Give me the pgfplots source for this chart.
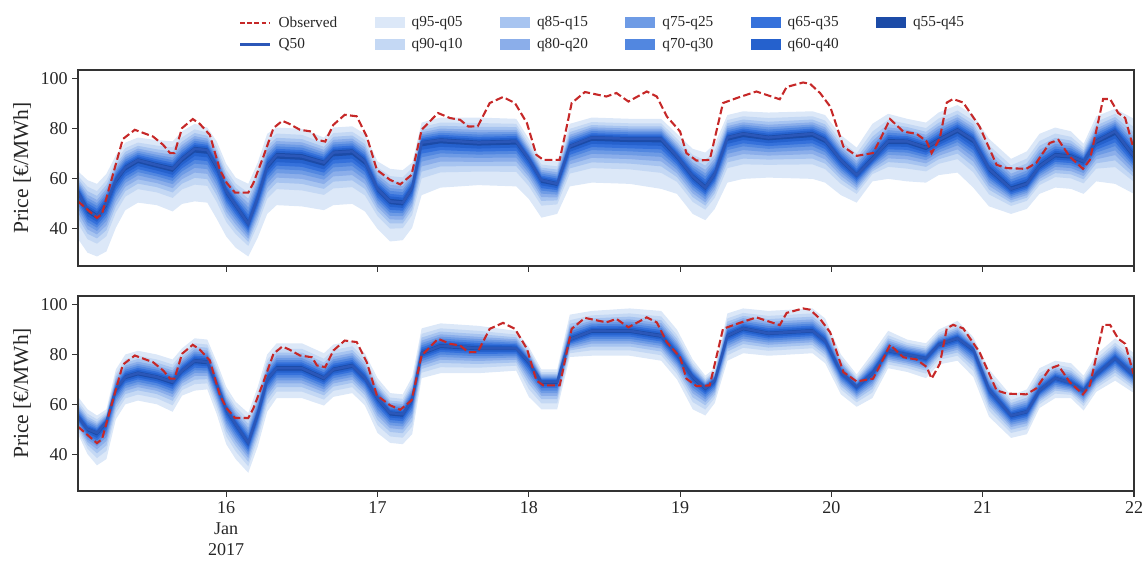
\documentclass[border=0pt]{standalone}
\usepackage{fontspec}
\setmainfont{Liberation Serif}
\usepackage{pgfplots}
\pgfplotsset{compat=1.18}
\usepackage{pgfplotstable}
\usepgfplotslibrary{fillbetween}

\definecolor{c1}{HTML}{DCE8F8}
\definecolor{c2}{HTML}{C4D8F4}
\definecolor{c3}{HTML}{A7C4F0}
\definecolor{c4}{HTML}{8BAEEA}
\definecolor{c5}{HTML}{6E9BE5}
\definecolor{c6}{HTML}{5287E0}
\definecolor{c7}{HTML}{3571DB}
\definecolor{c8}{HTML}{2561CD}
\definecolor{c9}{HTML}{1C4BA7}
\definecolor{medcol}{HTML}{2B57B8}
\definecolor{obscol}{HTML}{C62828}
\definecolor{txt}{HTML}{262626}

\pgfplotstableread{
h q05 q10 q15 q20 q25 q30 q35 q40 q45 q50 q55 q60 q65 q70 q75 q80 q85 q90 q95
0.5  36 42.1 44.5 46.4 48.2 49.7 51.0 52.3 53.7 55 55.6 56.2 56.8 57.6 58.3 59.1 60.0 61.2 63.0
2    30.5 35.9 38.1 39.8 41.4 42.7 43.9 45.1 46.3 47.5 48.5 49.3 50.3 51.3 52.4 53.6 55.1 56.9 59.5
3.5  29 34.1 36.2 37.8 39.2 40.5 41.6 42.8 43.9 45 46 47 48 49.2 50.3 51.6 53.2 55.1 58
5    31 37.1 39.5 41.4 43.2 44.7 46.0 47.3 48.7 50 51 51.8 52.8 53.8 54.9 56.1 57.6 59.4 62
6.5  40.5 46.6 49.0 50.9 52.7 54.2 55.5 56.8 58.2 59.5 60.3 61.0 61.8 62.7 63.6 64.6 65.8 67.3 69.5
8    47.5 52.9 55.1 56.8 58.4 59.7 60.9 62.1 63.3 64.5 65.3 66.0 66.8 67.7 68.6 69.6 70.8 72.3 74.5
10   50.5 55.9 58.1 59.8 61.4 62.7 63.9 65.1 66.3 67.5 68.2 68.9 69.6 70.4 71.2 72.1 73.2 74.5 76.5
13   49.5 54.6 56.7 58.3 59.7 61.0 62.1 63.3 64.4 65.5 66.3 67.0 67.8 68.7 69.6 70.6 71.8 73.3 75.5
15.5 47 52.4 54.6 56.3 57.9 59.2 60.4 61.6 62.8 64 64.9 65.7 66.5 67.5 68.5 69.6 70.9 72.6 75
17   50 55.8 58.1 59.9 61.5 63.0 64.2 65.5 66.7 68 68.9 69.7 70.5 71.5 72.5 73.6 74.9 76.6 79
19   51 57.7 60.4 62.5 64.4 66.1 67.6 69.1 70.5 72 72.8 73.5 74.3 75.2 76.1 77.1 78.3 79.8 82
21   50.5 57.2 59.9 62.0 63.9 65.6 67.1 68.6 70.0 71.5 72.2 72.9 73.6 74.4 75.2 76.1 77.2 78.5 80.5
22.5 44 50.7 53.4 55.5 57.4 59.1 60.6 62.1 63.5 65 65.8 66.5 67.3 68.2 69.1 70.1 71.3 72.8 75
24   37 42.8 45.1 46.9 48.5 50.0 51.2 52.5 53.7 55 55.9 56.7 57.5 58.5 59.5 60.6 61.9 63.6 66
25.5 32.5 37.9 40.1 41.8 43.4 44.7 45.9 47.1 48.3 49.5 50.4 51.2 52.0 53.0 54.0 55.1 56.4 58.1 60.5
27.5 29 33.2 34.8 36.1 37.3 38.4 39.3 40.2 41.1 42 43.3 44.4 45.7 47.1 48.6 50.2 52.1 54.5 58
29   36.5 41.6 43.7 45.3 46.7 48.0 49.1 50.3 51.4 52.5 53.6 54.6 55.7 57.0 58.2 59.6 61.3 63.4 66.5
30.5 46 52.1 54.5 56.4 58.2 59.7 61.0 62.3 63.7 65 66 67 68 69.2 70.3 71.6 73.2 75.1 78
32   49.5 55.9 58.5 60.5 62.3 63.9 65.3 66.7 68.1 69.5 70.4 71.2 72.0 73.0 74.0 75.1 76.4 78.1 80.5
36   49 55.4 58.0 60.0 61.8 63.4 64.8 66.2 67.6 69 69.9 70.7 71.5 72.5 73.5 74.6 75.9 77.6 80
39.5 47.5 53.6 56.0 57.9 59.7 61.2 62.5 63.8 65.2 66.5 67.3 68.0 68.8 69.7 70.6 71.6 72.8 74.3 76.5
41   49.5 56.2 58.9 61.0 62.9 64.6 66.1 67.6 69.0 70.5 71.3 72.0 72.8 73.7 74.6 75.6 76.8 78.3 80.5
44   50 56.7 59.4 61.5 63.4 65.1 66.6 68.1 69.5 71 71.8 72.5 73.3 74.2 75.1 76.1 77.3 78.8 81
46   47 53.4 56.0 58.0 59.8 61.4 62.8 64.2 65.6 67 67.9 68.7 69.5 70.5 71.5 72.6 73.9 75.6 78
48   40 45.1 47.2 48.8 50.2 51.5 52.6 53.8 54.9 56 56.9 57.7 58.5 59.5 60.5 61.6 62.9 64.6 67
50   35 40.1 42.2 43.8 45.2 46.5 47.6 48.8 49.9 51 52 53 54 55.2 56.3 57.6 59.2 61.1 64
52   35.5 40.3 42.2 43.7 45.1 46.3 47.3 48.4 49.4 50.5 51.5 52.5 53.5 54.7 55.8 57.1 58.7 60.6 63.5
53.5 40.5 45.6 47.7 49.3 50.7 52.0 53.1 54.3 55.4 56.5 57.3 58.0 58.8 59.7 60.6 61.6 62.8 64.3 66.5
55   53.5 60.2 62.9 65.0 66.9 68.6 70.1 71.6 73.0 74.5 75.1 75.7 76.3 77.1 77.8 78.6 79.5 80.7 82.5
58   56.5 62.6 65.0 66.9 68.7 70.2 71.5 72.8 74.2 75.5 76.2 76.9 77.6 78.4 79.2 80.1 81.2 82.5 84.5
64   57.5 62.9 65.1 66.8 68.4 69.7 70.9 72.1 73.3 74.5 75.3 76.0 76.8 77.7 78.6 79.6 80.8 82.3 84.5
70   57 62.8 65.1 66.9 68.5 70.0 71.2 72.5 73.7 75 75.7 76.4 77.1 77.9 78.7 79.6 80.7 82.0 84
72   52 57.1 59.2 60.8 62.2 63.5 64.6 65.8 66.9 68 68.6 69.2 69.8 70.6 71.3 72.1 73.0 74.2 76
74   44.5 49.3 51.2 52.7 54.1 55.3 56.3 57.4 58.4 59.5 60.1 60.7 61.3 62.1 62.8 63.6 64.5 65.7 67.5
76.5 46 49.8 51.4 52.6 53.7 54.6 55.5 56.3 57.2 58 58.7 59.4 60.1 60.9 61.7 62.6 63.7 65.0 67
78.5 57 62.1 64.2 65.8 67.2 68.5 69.6 70.8 71.9 73 73.7 74.4 75.1 75.9 76.7 77.6 78.7 80.0 82
82   58.5 64.3 66.6 68.4 70.0 71.5 72.7 74.0 75.2 76.5 77.1 77.7 78.3 79.1 79.8 80.6 81.5 82.7 84.5
88   58 63.8 66.1 67.9 69.5 71.0 72.2 73.5 74.7 76 76.6 77.2 77.8 78.6 79.3 80.1 81.0 82.2 84
93   56 62.4 65.0 67.0 68.8 70.4 71.8 73.2 74.6 76 76.6 77.2 77.8 78.6 79.3 80.1 81.0 82.2 84
95.5 54 58.8 60.7 62.2 63.6 64.8 65.8 66.9 67.9 69 69.7 70.4 71.1 71.9 72.7 73.6 74.7 76.0 78
98   46 50.8 52.7 54.2 55.6 56.8 57.8 58.9 59.9 61 61.9 62.7 63.5 64.5 65.5 66.6 67.9 69.6 72
100  43.5 47.7 49.3 50.6 51.8 52.9 53.8 54.7 55.6 56.5 57.6 58.6 59.7 61.0 62.2 63.6 65.3 67.4 70.5
101.5 48 52.5 54.3 55.7 57.0 58.1 59.1 60.0 61.0 62 63 63.8 64.8 65.8 66.9 68.1 69.6 71.4 74
103.5 58.5 64.3 66.6 68.4 70.0 71.5 72.7 74.0 75.2 76.5 77.2 77.9 78.6 79.4 80.2 81.1 82.2 83.5 85.5
106  60 65.8 68.1 69.9 71.5 73.0 74.2 75.5 76.7 78 78.7 79.4 80.1 80.9 81.7 82.6 83.7 85.0 87
110  60.5 65.6 67.7 69.3 70.7 72.0 73.1 74.3 75.4 76.5 77.3 78.0 78.8 79.7 80.6 81.6 82.8 84.3 86.5
117  60 65.8 68.1 69.9 71.5 73.0 74.2 75.5 76.7 78 78.7 79.4 80.1 80.9 81.7 82.6 83.7 85.0 87
119  58.5 63.9 66.1 67.8 69.4 70.7 71.9 73.1 74.3 75.5 76.3 77.0 77.8 78.7 79.6 80.6 81.8 83.3 85.5
121.5 53.5 58.0 59.8 61.2 62.5 63.6 64.6 65.5 66.5 67.5 68.3 69.0 69.8 70.7 71.6 72.6 73.8 75.3 77.5
124  50.5 54.0 55.4 56.5 57.5 58.4 59.2 60.0 60.7 61.5 62.4 63.2 64.0 65.0 66.0 67.1 68.4 70.1 72.5
126.5 59 61.9 63.0 63.9 64.8 65.5 66.1 66.7 67.4 68 69.1 70.1 71.2 72.5 73.7 75.1 76.8 78.9 82
129  60 64.8 66.7 68.2 69.6 70.8 71.8 72.9 73.9 75 75.9 76.7 77.5 78.5 79.5 80.6 81.9 83.6 86
132  59 64.1 66.2 67.8 69.2 70.5 71.6 72.8 73.9 75 75.7 76.4 77.1 77.9 78.7 79.6 80.7 82.0 84
135  58.5 63.0 64.8 66.2 67.5 68.6 69.6 70.5 71.5 72.5 73.3 74.0 74.8 75.7 76.6 77.6 78.8 80.3 82.5
137  61.5 66.0 67.8 69.2 70.5 71.6 72.6 73.5 74.5 75.5 76.4 77.2 78.0 79.0 80.0 81.1 82.4 84.1 86.5
140  62.5 67.9 70.1 71.8 73.4 74.7 75.9 77.1 78.3 79.5 80.3 81.0 81.8 82.7 83.6 84.6 85.8 87.3 89.5
142.5 56.5 62.6 65.0 66.9 68.7 70.2 71.5 72.8 74.2 75.5 76.3 77.0 77.8 78.7 79.6 80.6 81.8 83.3 85.5
145  49 53.8 55.7 57.2 58.6 59.8 60.8 61.9 62.9 64 65 65.8 66.8 67.8 68.9 70.1 71.6 73.4 76
148.5 46 49.2 50.5 51.5 52.4 53.2 53.9 54.6 55.3 56 57 57.8 58.8 59.8 60.9 62.1 63.6 65.4 68
151  48 51.2 52.5 53.5 54.4 55.2 55.9 56.6 57.3 58 59 60 61 62.2 63.3 64.6 66.2 68.1 71
153  54 57.5 58.9 60.0 61.0 61.9 62.7 63.5 64.2 65 66 67 68 69.2 70.3 71.6 73.2 75.1 78
155.5 56.5 60.7 62.3 63.6 64.8 65.9 66.8 67.7 68.6 69.5 70.4 71.2 72.0 73.0 74.0 75.1 76.4 78.1 80.5
158  56 60.2 61.8 63.1 64.3 65.4 66.3 67.2 68.1 69 69.8 70.5 71.3 72.2 73.1 74.1 75.3 76.8 79
160  54 58.2 59.8 61.1 62.3 63.4 64.3 65.2 66.1 67 67.6 68.1 68.6 69.2 69.9 70.6 71.4 72.5 74
162  59 64.1 66.2 67.8 69.2 70.5 71.6 72.8 73.9 75 75.8 76.5 77.3 78.2 79.1 80.1 81.3 82.8 85
165  58 64.7 67.4 69.5 71.4 73.1 74.6 76.1 77.5 79 79.7 80.4 81.1 81.9 82.7 83.6 84.7 86.0 88
168  54 58.8 60.7 62.2 63.6 64.8 65.8 66.9 67.9 69 70.2 71.3 72.5 73.8 75.2 76.7 78.5 80.7 84
}\toptab

\pgfplotstableread{
h q05 q10 q15 q20 q25 q30 q35 q40 q45 q50 q55 q60 q65 q70 q75 q80 q85 q90 q95
0.5  48 49.5 50.6 51.4 52.1 52.8 53.4 53.9 54.4 55 55.6 56.2 56.8 57.6 58.3 59.1 60.0 61.2 63
2    40 42.2 43.7 44.9 45.9 46.8 47.7 48.5 49.2 50 50.6 51.2 51.8 52.6 53.3 54.1 55.0 56.2 58
3.5  35.5 38.4 40.3 41.9 43.2 44.3 45.5 46.5 47.5 48.5 49.1 49.6 50.1 50.7 51.4 52.1 52.9 54.0 55.5
5    38 41.3 43.5 45.3 46.8 48.2 49.5 50.7 51.8 53 53.4 53.8 54.2 54.6 55.1 55.6 56.2 56.9 58
6.5  54 56.6 58.4 59.9 61.1 62.2 63.2 64.2 65.0 66 66.6 67.2 67.8 68.6 69.3 70.1 71.0 72.2 74
8    60 62.4 64.1 65.4 66.5 67.5 68.5 69.3 70.1 71 71.7 72.4 73.1 73.9 74.7 75.6 76.7 78.0 80
10   61.5 63.9 65.6 66.9 68.0 69.0 70.0 70.8 71.6 72.5 73.2 73.9 74.6 75.4 76.2 77.1 78.2 79.5 81.5
13   60 62.4 64.1 65.4 66.5 67.5 68.5 69.3 70.1 71 71.7 72.4 73.1 73.9 74.7 75.6 76.7 78.0 80
15.5 57 59.6 61.4 62.9 64.1 65.2 66.2 67.2 68.0 69 69.7 70.4 71.1 71.9 72.7 73.6 74.7 76.0 78
17   63.5 65.7 67.2 68.4 69.4 70.3 71.2 72.0 72.7 73.5 74.2 74.9 75.6 76.4 77.2 78.1 79.2 80.5 82.5
19   65.5 68.1 69.9 71.4 72.6 73.7 74.7 75.7 76.5 77.5 78.2 78.9 79.6 80.4 81.2 82.1 83.2 84.5 86.5
21   66 68.4 70.1 71.4 72.5 73.5 74.5 75.3 76.1 77 77.7 78.4 79.1 79.9 80.7 81.6 82.7 84.0 86
22.5 56 58.6 60.4 61.9 63.1 64.2 65.2 66.2 67.0 68 68.7 69.4 70.1 70.9 71.7 72.6 73.7 75.0 77
24   44 47.1 49.2 50.9 52.3 53.5 54.8 55.9 56.9 58 58.7 59.4 60.1 60.9 61.7 62.6 63.7 65.0 67
25.5 38 41.1 43.2 44.9 46.3 47.5 48.8 49.9 50.9 52 52.7 53.4 54.1 54.9 55.7 56.6 57.7 59.0 61
27.5 32.5 35.1 36.9 38.4 39.6 40.7 41.7 42.7 43.5 44.5 45.5 46.3 47.3 48.3 49.4 50.6 52.1 53.9 56.5
29   43 45.9 47.8 49.4 50.7 51.8 53.0 54.0 55.0 56 56.9 57.7 58.5 59.5 60.5 61.6 62.9 64.6 67
30.5 57 59.9 61.8 63.4 64.7 65.8 67.0 68.0 69.0 70 70.8 71.5 72.3 73.2 74.1 75.1 76.3 77.8 80
32   62.5 65.1 66.9 68.4 69.6 70.7 71.7 72.7 73.5 74.5 75.3 76.0 76.8 77.7 78.6 79.6 80.8 82.3 84.5
36   62.5 65.1 66.9 68.4 69.6 70.7 71.7 72.7 73.5 74.5 75.3 76.0 76.8 77.7 78.6 79.6 80.8 82.3 84.5
39.5 59.5 61.9 63.6 64.9 66.0 67.0 68.0 68.8 69.6 70.5 71.3 72.0 72.8 73.7 74.6 75.6 76.8 78.3 80.5
41   63 65.4 67.1 68.4 69.5 70.5 71.5 72.3 73.1 74 74.8 75.5 76.3 77.2 78.1 79.1 80.3 81.8 84
44   64.5 66.9 68.6 69.9 71.0 72.0 73.0 73.8 74.6 75.5 76.3 77.0 77.8 78.7 79.6 80.6 81.8 83.3 85.5
46   59.5 61.9 63.6 64.9 66.0 67.0 68.0 68.8 69.6 70.5 71.3 72.0 72.8 73.7 74.6 75.6 76.8 78.3 80.5
48   48.5 51.6 53.7 55.4 56.8 58.0 59.3 60.4 61.4 62.5 63.1 63.7 64.3 65.1 65.8 66.6 67.5 68.7 70.5
50   44.5 47.1 48.9 50.4 51.6 52.7 53.7 54.7 55.5 56.5 57.1 57.7 58.3 59.1 59.8 60.6 61.5 62.7 64.5
52   44 46.6 48.4 49.9 51.1 52.2 53.2 54.2 55.0 56 56.6 57.2 57.8 58.6 59.3 60.1 61.0 62.2 64
53.5 48 51.1 53.2 54.9 56.3 57.5 58.8 59.9 60.9 62 62.7 63.4 64.1 64.9 65.7 66.6 67.7 69.0 71
55   70.5 72.7 74.2 75.4 76.4 77.3 78.2 79.0 79.7 80.5 81.3 82.0 82.8 83.7 84.6 85.6 86.8 88.3 90.5
58   72.5 74.9 76.6 77.9 79.0 80.0 81.0 81.8 82.6 83.5 84.2 84.9 85.6 86.4 87.2 88.1 89.2 90.5 92.5
64   72.5 74.7 76.2 77.4 78.4 79.3 80.2 81.0 81.7 82.5 83.2 83.9 84.6 85.4 86.2 87.1 88.2 89.5 91.5
70   73.5 75.5 76.8 77.9 78.8 79.6 80.4 81.1 81.8 82.5 83.1 83.6 84.1 84.7 85.4 86.1 86.9 88.0 89.5
72   63 66.1 68.2 69.9 71.3 72.5 73.8 74.9 75.9 77 77.5 77.9 78.4 78.9 79.5 80.1 80.8 81.7 83
74   58 60.4 62.1 63.4 64.5 65.5 66.5 67.3 68.1 69 69.4 69.8 70.2 70.6 71.1 71.6 72.2 72.9 74
76.5 58 60.4 62.1 63.4 64.5 65.5 66.5 67.3 68.1 69 69.4 69.8 70.2 70.6 71.1 71.6 72.2 72.9 74
78.5 79 80.5 81.6 82.4 83.1 83.8 84.4 84.9 85.4 86 86.8 87.5 88.3 89.2 90.1 91.1 92.3 93.8 96
82   79.5 81.7 83.2 84.4 85.4 86.3 87.2 88.0 88.7 89.5 90.1 90.7 91.3 92.1 92.8 93.6 94.5 95.7 97.5
88   79.5 81.7 83.2 84.4 85.4 86.3 87.2 88.0 88.7 89.5 90.2 90.9 91.6 92.4 93.2 94.1 95.2 96.5 98.5
93   77.5 79.7 81.2 82.4 83.4 84.3 85.2 86.0 86.7 87.5 88.3 89.0 89.8 90.7 91.6 92.6 93.8 95.3 97.5
95.5 70 72.2 73.7 74.9 75.9 76.8 77.7 78.5 79.2 80 80.8 81.5 82.3 83.2 84.1 85.1 86.3 87.8 90
98   58 60.9 62.8 64.4 65.7 66.8 68.0 69.0 70.0 71 71.6 72.1 72.6 73.2 73.9 74.6 75.4 76.5 78
100  55.5 57.9 59.6 60.9 62.0 63.0 64.0 64.8 65.6 66.5 66.9 67.3 67.7 68.1 68.6 69.1 69.7 70.4 71.5
101.5 60.5 62.5 63.8 64.9 65.8 66.6 67.4 68.1 68.8 69.5 69.9 70.3 70.7 71.1 71.6 72.1 72.7 73.4 74.5
103.5 77.5 79.7 81.2 82.4 83.4 84.3 85.2 86.0 86.7 87.5 88.2 88.9 89.6 90.4 91.2 92.1 93.2 94.5 96.5
106  80.5 82.7 84.2 85.4 86.4 87.3 88.2 89.0 89.7 90.5 91.1 91.7 92.3 93.1 93.8 94.6 95.5 96.7 98.5
110  79.5 81.5 82.8 83.9 84.8 85.6 86.4 87.1 87.8 88.5 89.2 89.9 90.6 91.4 92.2 93.1 94.2 95.5 97.5
117  80.5 82.5 83.8 84.9 85.8 86.6 87.4 88.1 88.8 89.5 90.2 90.9 91.6 92.4 93.2 94.1 95.2 96.5 98.5
119  76.5 78.5 79.8 80.9 81.8 82.6 83.4 84.1 84.8 85.5 86.2 86.9 87.6 88.4 89.2 90.1 91.2 92.5 94.5
121.5 64 66.0 67.3 68.4 69.3 70.1 70.9 71.6 72.3 73 73.6 74.1 74.6 75.2 75.9 76.6 77.4 78.5 80
124  59 60.8 62.0 62.9 63.7 64.4 65.2 65.8 66.4 67 67.4 67.8 68.2 68.6 69.1 69.6 70.2 70.9 72
126.5 62.5 64.7 66.2 67.4 68.4 69.3 70.2 71.0 71.7 72.5 73.1 73.7 74.3 75.1 75.8 76.6 77.5 78.7 80.5
129  74.5 76.0 77.1 77.9 78.6 79.3 79.9 80.4 80.9 81.5 82.1 82.7 83.3 84.1 84.8 85.6 86.5 87.7 89.5
132  73 74.5 75.6 76.4 77.1 77.8 78.4 78.9 79.4 80 80.5 80.9 81.4 81.9 82.5 83.1 83.8 84.7 86
135  70.5 72.3 73.5 74.4 75.2 75.9 76.7 77.3 77.9 78.5 79.0 79.4 79.9 80.4 81.0 81.6 82.3 83.2 84.5
137  76 77.8 79.0 79.9 80.7 81.4 82.2 82.8 83.4 84 84.5 84.9 85.4 85.9 86.5 87.1 87.8 88.7 90
140  77.5 79.5 80.8 81.9 82.8 83.6 84.4 85.1 85.8 86.5 87.1 87.6 88.1 88.7 89.4 90.1 90.9 92.0 93.5
142.5 71 73.4 75.1 76.4 77.5 78.5 79.5 80.3 81.1 82 82.4 82.8 83.2 83.6 84.1 84.6 85.2 85.9 87
145  55 57.4 59.1 60.4 61.5 62.5 63.5 64.3 65.1 66 66.6 67.2 67.8 68.6 69.3 70.1 71.0 72.2 74
148.5 46.5 48.5 49.8 50.9 51.8 52.6 53.4 54.1 54.8 55.5 56.1 56.7 57.3 58.1 58.8 59.6 60.5 61.7 63.5
151  48 50.0 51.3 52.4 53.3 54.1 54.9 55.6 56.3 57 57.7 58.4 59.1 59.9 60.7 61.6 62.7 64.0 66
153  58.5 60.0 61.1 61.9 62.6 63.3 63.9 64.4 64.9 65.5 66.2 66.9 67.6 68.4 69.2 70.1 71.2 72.5 74.5
155.5 62.5 64.3 65.5 66.4 67.2 67.9 68.7 69.3 69.9 70.5 71.1 71.6 72.1 72.7 73.4 74.1 74.9 76.0 77.5
158  62.5 63.8 64.7 65.4 66.0 66.6 67.1 67.6 68.0 68.5 69.1 69.7 70.3 71.1 71.8 72.6 73.5 74.7 76.5
160  57.5 59.3 60.5 61.4 62.2 62.9 63.7 64.3 64.9 65.5 66.0 66.4 66.9 67.4 68.0 68.6 69.3 70.2 71.5
162  65 66.5 67.6 68.4 69.1 69.8 70.4 70.9 71.4 72 72.6 73.2 73.8 74.6 75.3 76.1 77.0 78.2 80
165  69.5 71.5 72.8 73.9 74.8 75.6 76.4 77.1 77.8 78.5 79.1 79.7 80.3 81.1 81.8 82.6 83.5 84.7 86.5
168  64.5 66.0 67.1 67.9 68.6 69.3 69.9 70.4 70.9 71.5 72.2 72.9 73.6 74.4 75.2 76.1 77.2 78.5 80.5
}\bottab

\pgfplotstableread{
h v
0.5 51
3.5 44.4
4.3 46
7.6 75.9
9.5 79.6
12.4 76.9
14 73.6
15.1 70.3
15.8 70.3
17 80.3
18.7 83.9
19.8 82
21.4 77.6
23 63.6
24.1 58.3
25.4 54.5
27.5 54.5
28.3 58.3
29.9 68.9
31.5 80.3
32.9 83.2
34 82
35.7 79.6
37.6 78.9
38.4 75.6
39.7 74.9
41 81.6
42.8 85.6
44.7 85
46.3 76.9
47.9 63.6
50 59.6
51.6 57.8
53.4 61.6
55 79.6
57.6 86.3
59.5 84.3
61.1 83.6
62.4 80.9
63.9 81
65.8 90.3
67.9 92.7
69.8 90.3
71.7 82.3
73.2 69.6
74.3 67.6
76.9 67.6
78.8 90.3
80.9 94.7
84.3 92.9
85.9 94.3
87.8 90.9
90.7 94.9
92.3 92.9
93.9 84.9
96 78.9
97 70.3
98.6 67.3
100.7 67.6
102.8 90.3
105 92.3
108.1 94.9
111.8 91.8
112.9 96.7
115.5 98.5
116.6 98
118.2 94.3
119.8 88.9
121.9 72.9
124 69.2
126.6 70.3
127.7 75.6
129.3 83.9
131.4 78.9
133.5 78
135.1 75
135.9 70.3
137.2 76.3
138.3 90.5
139.3 91.9
140.9 90.5
143.5 80.9
146.2 65.6
147.8 64.3
150.9 64
152.5 66.4
154.6 74.3
156 75.6
157.8 68.9
159.9 64
161 67.6
163.1 91.9
164.2 91.9
165.5 86.3
166.6 84.3
167.9 72.3
}\obstab

\newcommand{\band}[5]{%
  \addplot[draw=none, name path=U#5, forget plot] table[x=h, y=#2] {#1};
  \addplot[draw=none, name path=L#5, forget plot] table[x=h, y=#3] {#1};
  \addplot[fill=#4, draw=none, forget plot] fill between[of=U#5 and L#5];
}
\newcommand{\allbands}[2]{%
  \band{#1}{q95}{q05}{c1}{#2a}
  \band{#1}{q90}{q10}{c2}{#2b}
  \band{#1}{q85}{q15}{c3}{#2c}
  \band{#1}{q80}{q20}{c4}{#2d}
  \band{#1}{q75}{q25}{c5}{#2e}
  \band{#1}{q70}{q30}{c6}{#2f}
  \band{#1}{q65}{q35}{c7}{#2g}
  \band{#1}{q60}{q40}{c8}{#2h}
  \band{#1}{q55}{q45}{c9}{#2i}
  \addplot[medcol, line width=1.8pt, forget plot] table[x=h, y=q50] {#1};
  \addplot[obscol, line width=1.5pt, dash pattern=on 5.5pt off 2.4pt, forget plot] table[x=h, y=v] {\obstab};
}

\pgfplotsset{
  boxleg/.style={legend image code/.code={\path[##1, draw=none] (0pt,-4pt) rectangle (21.6pt,4pt);}},
  lineleg/.style={legend image code/.code={\draw[##1] (0pt,0pt) -- (21.6pt,0pt);}},
  panel/.style={
    scale only axis, width=760.3pt,
    xmin=0.5, xmax=168, ymin=25.2, ymax=103.5,
    xtick={24,48,72,96,120,144,168},
    ytick={40,60,80,100},
    tick align=outside, xtick pos=bottom, ytick pos=left,
    major tick length=4pt,
    tick style={black!80, line width=0.8pt},
    axis line style={black!80, line width=0.8pt},
    ticklabel style={font=\fontsize{13}{15}\selectfont, text=txt},
    /pgf/number format/assume math mode=true,
    ylabel={Price [€/MWh]},
    ylabel style={font=\fontsize{15.5}{18}\selectfont, text=txt},
    axis on top,
  },
}

\begin{document}
\begin{tikzpicture}
\begin{axis}[panel, at={(0,0)}, anchor=south west, height=140.4pt,
  xticklabels={{16\\Jan\\2017},17,18,19,20,21,22},
  xticklabel style={align=center}]
  \allbands{\bottab}{B}
\end{axis}
\begin{axis}[panel, at={(0,162pt)}, anchor=south west, height=141.1pt,
  xticklabels={},
  legend columns=6,
  legend cell align=left,
  legend style={draw=none, fill=none, at={(0.497,1.07)}, anchor=south,
    font=\fontsize{11}{13}\selectfont, text=txt,
    column sep=3pt, row sep=2.5pt,
    /tikz/every even column/.append style={column sep=25pt}}]
  \allbands{\toptab}{T}
  \addlegendimage{lineleg, obscol, line width=1.5pt, dash pattern=on 3.5pt off 1.6pt}
  \addlegendentry{Observed}
  \addlegendimage{boxleg, fill=c1}\addlegendentry{q95-q05}
  \addlegendimage{boxleg, fill=c3}\addlegendentry{q85-q15}
  \addlegendimage{boxleg, fill=c5}\addlegendentry{q75-q25}
  \addlegendimage{boxleg, fill=c7}\addlegendentry{q65-q35}
  \addlegendimage{boxleg, fill=c9}\addlegendentry{q55-q45}
  \addlegendimage{lineleg, medcol, line width=2pt}\addlegendentry{Q50}
  \addlegendimage{boxleg, fill=c2}\addlegendentry{q90-q10}
  \addlegendimage{boxleg, fill=c4}\addlegendentry{q80-q20}
  \addlegendimage{boxleg, fill=c6}\addlegendentry{q70-q30}
  \addlegendimage{boxleg, fill=c8}\addlegendentry{q60-q40}
\end{axis}
\pgfresetboundingbox
\path[use as bounding box] (-56.2pt,-50.4pt) rectangle (768.2pt,353.5pt);
\end{tikzpicture}
\end{document}
